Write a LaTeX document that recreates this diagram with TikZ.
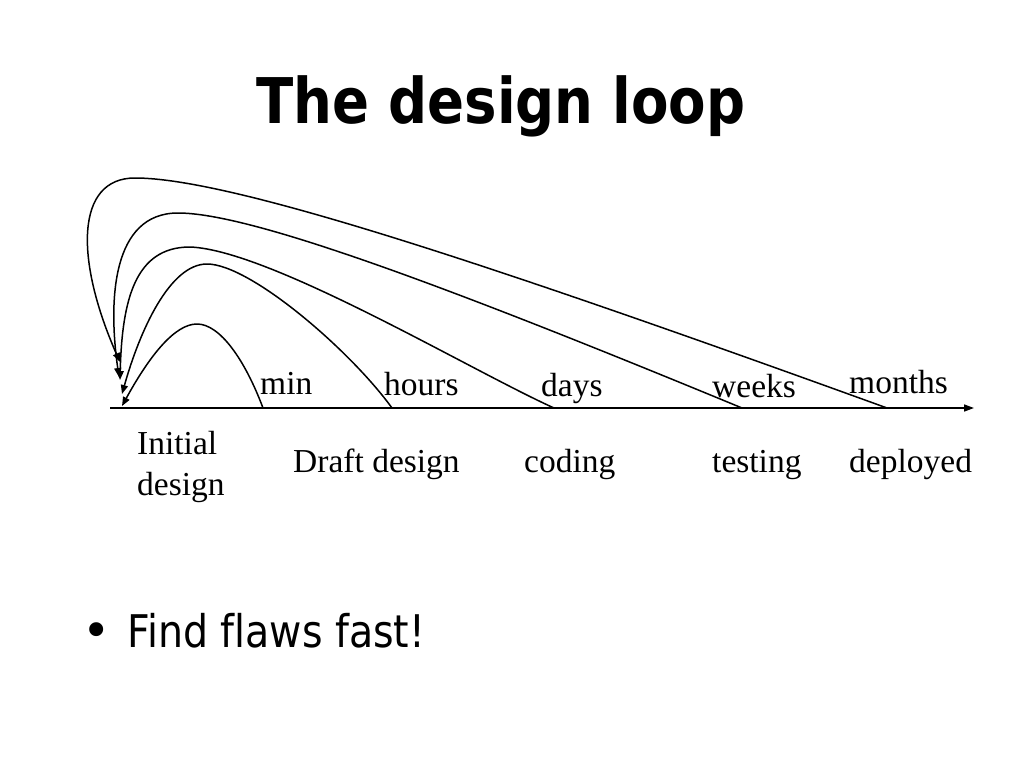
\documentclass[tikz,border=0pt]{standalone}
\usepackage{fontspec}
\setmainfont{Liberation Serif}
\newfontfamily\slidefont[Ligatures=NoCommon]{DejaVu Sans}
\usetikzlibrary{arrows.meta}
\tikzset{
  loop/.style={line width=1.5pt, -{Triangle[length=9pt,width=7pt]}},
  axisline/.style={line width=1.5pt, -{Triangle[length=10pt,width=7pt]}},
  lab/.style={anchor=base west, inner sep=0pt, font=\fontsize{33.5}{38}\selectfont},
}
\begin{document}
\begin{tikzpicture}[x=1pt,y=-1pt]
\useasboundingbox[fill=white] (0,0) rectangle (1024,768);
% title
\node[anchor=base, inner sep=0pt] (title) at (501,123)
  {\resizebox{489pt}{\height}{\slidefont\bfseries\fontsize{63}{70}\selectfont The design loop}};
% axis
\coordinate (ax0) at (110,408);
\coordinate (ax1) at (974,408);
\draw[axisline] (ax0) -- (ax1);
% endpoints
\coordinate (s1) at (263,408);
\coordinate (s2) at (392,408);
\coordinate (s3) at (554,408);
\coordinate (s4) at (742,408);
\coordinate (s5) at (887,408);
\coordinate (p1) at (197,324);
\coordinate (p2) at (207,264);
\coordinate (p3) at (190,247);
\coordinate (p4) at (178,213);
\coordinate (p5) at (135,178);
\coordinate (t1) at (122,406);
\coordinate (t2) at (122,394);
\coordinate (t3) at (120,380);
\coordinate (t4) at (119,377);
\coordinate (t5) at (120,362);
% loops
\draw[loop] (s1) .. controls (245,360) and (220,324) .. (p1)
            .. controls (175,324) and (150,355) .. (t1);
\draw[loop] (s2) .. controls (350,350) and (250,264) .. (p2)
            .. controls (170,264) and (140,330) .. (t2);
\draw[loop] (s3) .. controls (470,370) and (270,250) .. (p3)
            .. controls (135,247) and (122,300) .. (t3);
\draw[loop] (s4) .. controls (442,284) and (250,213) .. (p4)
            .. controls (112,213) and (108,300) .. (t4);
\draw[loop] (s5) .. controls (487,263) and (230,178) .. (p5)
            .. controls (75,178) and (75,260) .. (t5);
% labels above axis
\node[lab] (lmin) at (260,394) {min};
\node[lab] (lhours) at (384,395) {hours};
\node[lab] (ldays) at (541,396) {days};
\node[lab] (lweeks) at (712,397) {weeks};
\node[lab] (lmonths) at (849,393) {months};
% labels below axis
\node[lab] (linit) at (137,454) {Initial};
\node[lab] (linit2) at (137,495) {design};
\node[lab] (ldraft) at (293,472) {Draft design};
\node[lab] (lcoding) at (524,472) {coding};
\node[lab] (ltesting) at (712,472) {testing};
\node[lab] (ldeployed) at (849,472) {deployed};
% bullet
\node[anchor=base, inner sep=0pt] (bul) at (97,647) {\slidefont\fontsize{48}{50}\selectfont •};
\node[anchor=base west, inner sep=0pt] (find) at (127,647)
  {\resizebox{298pt}{\height}{\slidefont\fontsize{45}{50}\selectfont Find flaws fast!}};
\end{tikzpicture}
\end{document}
